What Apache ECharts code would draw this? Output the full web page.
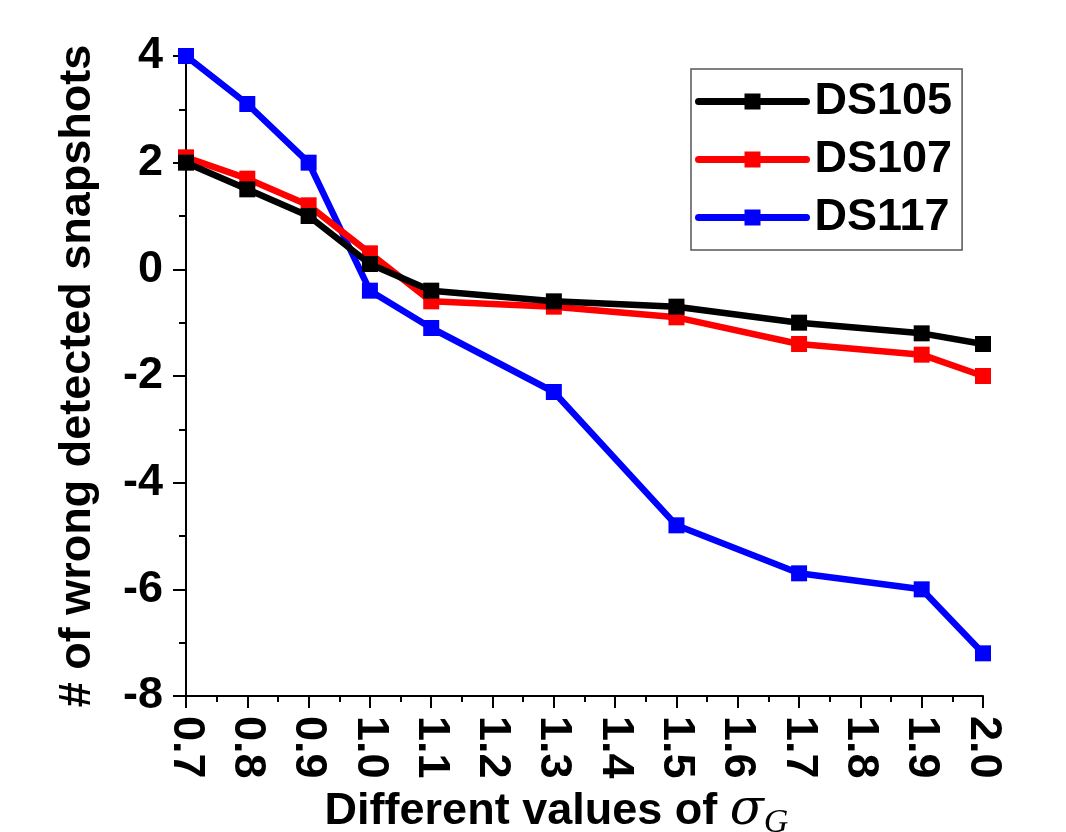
<!DOCTYPE html>
<html>
<head>
<meta charset="utf-8">
<script src="https://cdn.jsdelivr.net/npm/echarts@6/dist/echarts.min.js"></script>
<style>
  html, body { margin: 0; padding: 0; background: #fff; }
  #main { width: 1066px; height: 832px; }
</style>
</head>
<body>
<div id="main"></div>
<script>
// sigma_G values on the x axis
var sigmaValues = [0.7, 0.8, 0.9, 1.0, 1.1, 1.3, 1.5, 1.7, 1.9, 2.0];
var ds105 = [2.0, 1.5, 1.0, 0.1, -0.4, -0.6, -0.7, -1.0, -1.2, -1.4];
var ds107 = [2.1, 1.7, 1.2, 0.3, -0.6, -0.7, -0.9, -1.4, -1.6, -2.0];
var ds117 = [4.0, 3.1, 2.0, -0.4, -1.1, -2.3, -4.8, -5.7, -6.0, -7.2];
var seriesNames = ['DS105', 'DS107', 'DS117'];
var seriesColors = ['#000000', '#ff0000', '#0000ff'];

var font = "'Liberation Sans', Arial, sans-serif";

function pairs(vals) {
  return sigmaValues.map(function (x, i) { return [x, vals[i]]; });
}

var chart = echarts.init(document.getElementById('main'));

var series = [ds105, ds107, ds117].map(function (vals, i) {
  return {
    name: seriesNames[i],
    type: 'line',
    data: pairs(vals),
    symbol: 'rect',
    symbolSize: 16,
    color: seriesColors[i],
    lineStyle: { width: 6.5, color: seriesColors[i] },
    itemStyle: { color: seriesColors[i] },
    animation: false,
    z: 2 + (2 - i)
  };
});

var option = {
  backgroundColor: '#fff',
  animation: false,
  grid: { left: 186, top: 56, right: 83, bottom: 136, containLabel: false, outerBoundsMode: 'none' },
  legend: {
    orient: 'vertical',
    left: 691,
    top: 69,
    data: seriesNames,
    borderColor: '#555',
    borderWidth: 1.5,
    padding: [10, 10, 10, 4],
    itemGap: 13,
    itemWidth: 108,
    itemHeight: 20,
    lineStyle: { width: 7, cap: 'round' },
    textStyle: {
      fontFamily: font,
      fontWeight: 'bold',
      fontSize: 45,
      lineHeight: 45,
      color: '#000',
      padding: [0, 0, 0, 3]
    }
  },
  xAxis: {
    type: 'value',
    min: 0.7,
    max: 2.0,
    interval: 0.1,
    name: '{a|Different values of }{s|σ}{g|G}',
    nameLocation: 'middle',
    nameGap: 86,
    nameTextStyle: {
      padding: [0, 56, 0, 0],
      rich: {
        a: { fontFamily: font, fontWeight: 'bold', fontSize: 45, color: '#000' },
        s: { fontFamily: "'DejaVu Serif', 'Liberation Serif', serif", fontStyle: 'italic', fontSize: 50, color: '#000' },
        g: { fontFamily: "'Liberation Serif', serif", fontStyle: 'italic', fontSize: 34, color: '#000', padding: [24, 0, 0, 0] }
      }
    },
    axisLine: { show: true, onZero: false, lineStyle: { color: '#000', width: 2 } },
    axisTick: { show: true, inside: false, length: 12, lineStyle: { color: '#000', width: 2 } },
    minorTick: { show: true, splitNumber: 2, length: 6, lineStyle: { color: '#000', width: 2 } },
    splitLine: { show: false },
    axisLabel: {
      rotate: -90,
      margin: 20,
      fontFamily: font,
      fontWeight: 'bold',
      fontSize: 45,
      color: '#000',
      formatter: function (v) { return v.toFixed(1); }
    }
  },
  yAxis: {
    type: 'value',
    min: -8,
    max: 4,
    interval: 2,
    name: '# of wrong detected snapshots',
    nameLocation: 'middle',
    nameRotate: 90,
    nameGap: 86,
    nameTextStyle: { fontFamily: font, fontWeight: 'bold', fontSize: 45, color: '#000' },
    axisLine: { show: true, onZero: false, lineStyle: { color: '#000', width: 2 } },
    axisTick: { show: true, inside: false, length: 13, lineStyle: { color: '#000', width: 2 } },
    minorTick: { show: true, splitNumber: 2, length: 7, lineStyle: { color: '#000', width: 2 } },
    splitLine: { show: false },
    axisLabel: {
      margin: 23,
      fontFamily: font,
      fontWeight: 'bold',
      fontSize: 45,
      color: '#000'
    }
  },
  series: series
};

chart.setOption(option);
</script>
</body>
</html>
